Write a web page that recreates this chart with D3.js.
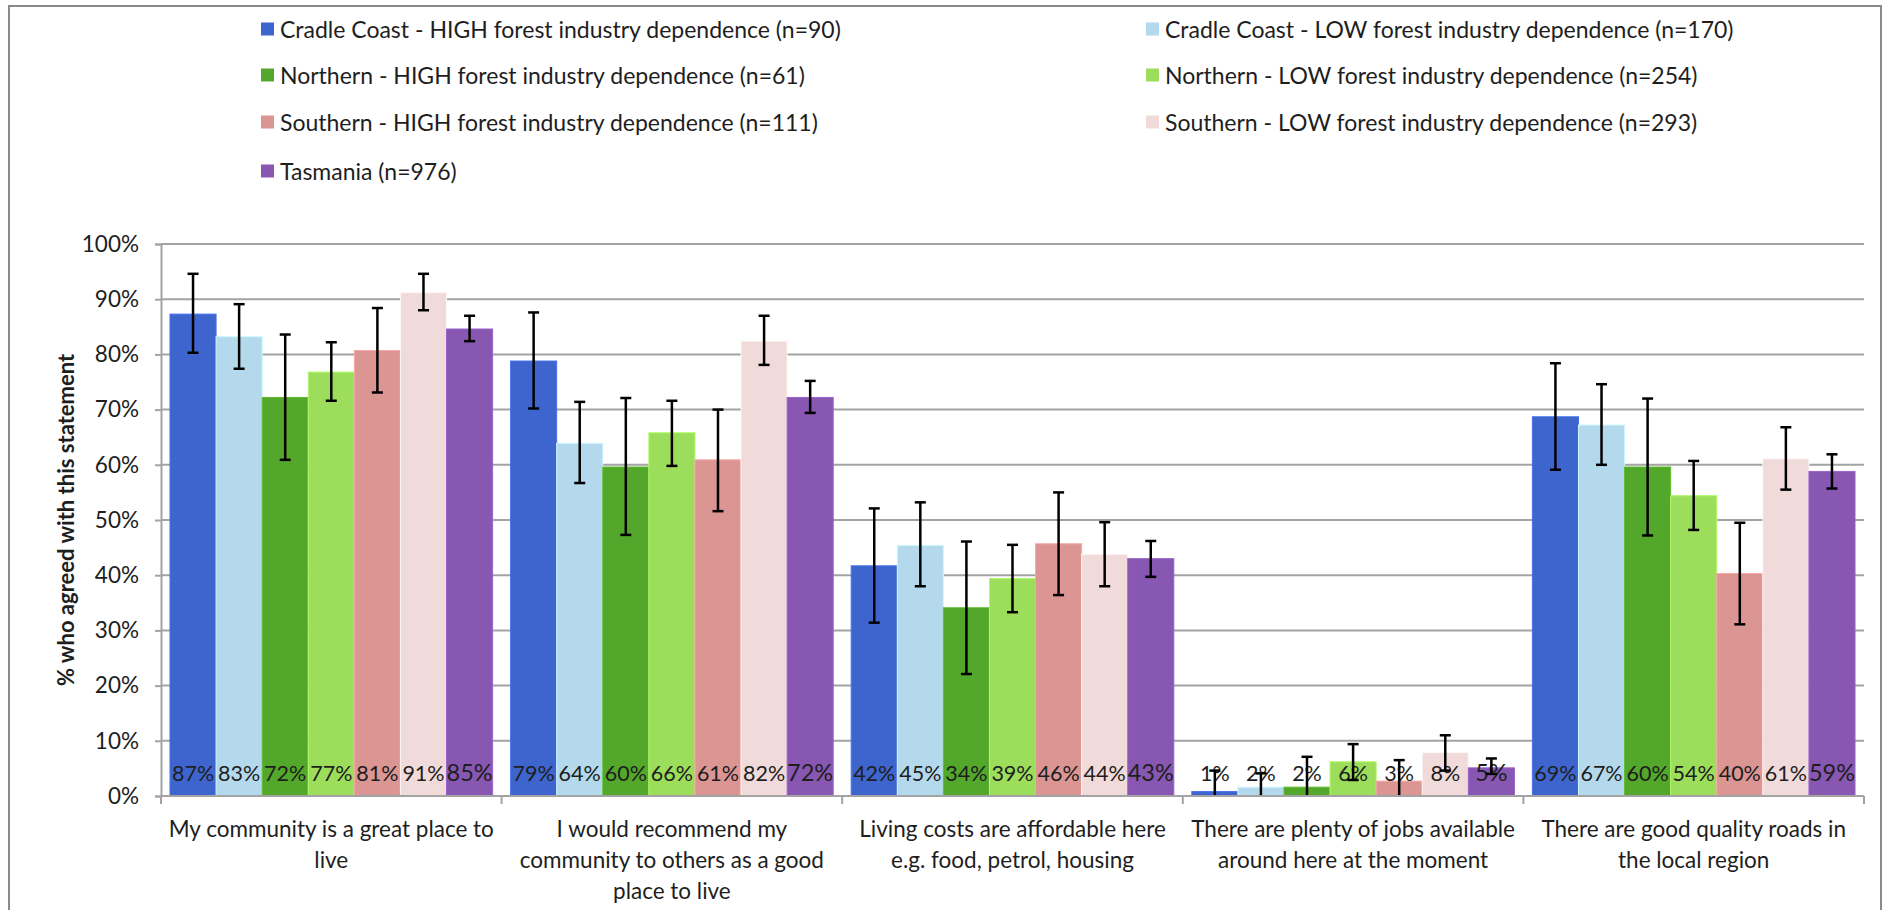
<!DOCTYPE html>
<html>
<head>
<meta charset="utf-8">
<script src="https://cdn.jsdelivr.net/npm/d3@7"></script>
<style>
  html, body { margin: 0; padding: 0; background: #fff; }
  svg text { font-family: Lato, "Open Sans", sans-serif; }
</style>
</head>
<body>
<svg id="chart" width="1883" height="910"></svg>
<script>
// ---------- DATA ----------
const categories = [
  ["My community is a great place to", "live"],
  ["I would recommend my", "community to others as a good", "place to live"],
  ["Living costs are affordable here", "e.g. food, petrol, housing"],
  ["There are plenty of jobs available", "around here at the moment"],
  ["There are good quality roads in", "the local region"]
];
const seriesNames = [
  "Cradle Coast - HIGH forest industry dependence (n=90)",
  "Cradle Coast - LOW forest industry dependence (n=170)",
  "Northern - HIGH forest industry dependence (n=61)",
  "Northern - LOW forest industry dependence (n=254)",
  "Southern - HIGH forest industry dependence (n=111)",
  "Southern - LOW forest industry dependence (n=293)",
  "Tasmania (n=976)"
];
const seriesColors = ["#3e65ce", "#b4d9ec", "#53a72a", "#9cdd5c", "#db9593", "#f1dada", "#8757b1"];

const cradleHigh  = [87.3, 78.8, 41.7, 0.8, 68.7];
const cradleLow   = [83.2, 63.9, 45.4, 1.6, 67.2];
const northHigh   = [72.2, 59.6, 34.1, 1.6, 59.6];
const northLow    = [76.8, 65.8, 39.4, 6.2, 54.4];
const southHigh   = [80.7, 60.9, 45.7, 2.7, 40.3];
const southLow    = [91.2, 82.4, 43.8, 7.9, 61.1];
const tasmania    = [84.6, 72.2, 43.0, 5.1, 58.8];

const cradleHighErr = [[80.3, 94.6], [70.2, 87.6], [31.4, 52.1], [-3.0, 4.6], [59.1, 78.4]];
const cradleLowErr  = [[77.4, 89.1], [56.7, 71.4], [38.0, 53.2], [-0.9, 4.1], [60.0, 74.6]];
const northHighErr  = [[60.9, 83.6], [47.3, 72.1], [22.1, 46.1], [-3.9, 7.1], [47.2, 72.0]];
const northLowErr   = [[71.6, 82.2], [59.8, 71.6], [33.3, 45.5], [2.9, 9.4], [48.2, 60.7]];
const southHighErr  = [[73.1, 88.4], [51.6, 70.0], [36.4, 55.0], [-1.1, 6.5], [31.1, 49.5]];
const southLowErr   = [[88.0, 94.6], [78.1, 87.0], [38.0, 49.6], [4.6, 11.0], [55.5, 66.8]];
const tasmaniaErr   = [[82.4, 87.0], [69.4, 75.2], [39.7, 46.2], [4.0, 6.8], [55.7, 61.9]];

const yTicks = [0, 10, 20, 30, 40, 50, 60, 70, 80, 90, 100];
const yTitle = "% who agreed with this statement";

const seriesValues = [cradleHigh, cradleLow, northHigh, northLow, southHigh, southLow, tasmania];
const seriesErrors = [cradleHighErr, cradleLowErr, northHighErr, northLowErr, southHighErr, southLowErr, tasmaniaErr];

// ---------- LAYOUT ----------
const svg = d3.select("#chart");
const plot = { left: 161, right: 1864, top: 244, bottom: 796 };
const gridColor = "#a3a3a3";
const textColor = "#1e1e1e";

// outer border
svg.append("rect")
  .attr("x", 9).attr("y", 6).attr("width", 1872).attr("height", 920)
  .attr("fill", "none").attr("stroke", "#8a8a8a").attr("stroke-width", 2);

const catIdx = d3.range(categories.length);
const x0 = d3.scaleBand().domain(catIdx).range([plot.left, plot.right]).padding(0);
const x1 = d3.scaleBand().domain(d3.range(seriesNames.length))
  .range([0, x0.bandwidth()]).paddingInner(0).paddingOuter(0.195);
const y = d3.scaleLinear().domain([0, 100]).range([plot.bottom, plot.top]);

// gridlines
svg.append("g").selectAll("line").data(yTicks.filter(t => t > 0)).join("line")
  .attr("x1", plot.left).attr("x2", plot.right)
  .attr("y1", d => y(d)).attr("y2", d => y(d))
  .attr("stroke", gridColor).attr("stroke-width", 2);

// y axis
const yAxis = d3.axisLeft(y).tickValues(yTicks).tickFormat(d => d + "%").tickSize(6).tickPadding(16);
const gy = svg.append("g").attr("transform", `translate(${plot.left},0)`).call(yAxis);
gy.select(".domain").attr("stroke", gridColor).attr("stroke-width", 2);
gy.selectAll(".tick line").attr("stroke", gridColor).attr("stroke-width", 2);
gy.selectAll(".tick text").attr("fill", textColor).style("font-size", "22.5px").style("font-family", "Lato, sans-serif");

// y title
svg.append("text")
  .attr("transform", `translate(65,${(plot.top + plot.bottom) / 2}) rotate(-90)`)
  .attr("text-anchor", "middle").attr("dominant-baseline", "central")
  .attr("fill", textColor).style("font-size", "22px").style("font-weight", "bold")
  .text(yTitle);

// bars
const groups = svg.append("g").selectAll("g").data(catIdx).join("g")
  .attr("transform", c => `translate(${x0(c)},0)`);

groups.selectAll("rect").data(c => seriesValues.map((vals, s) => ({ s, v: vals[c] }))).join("rect")
  .attr("x", d => x1(d.s)).attr("width", x1.bandwidth())
  .attr("y", d => y(d.v)).attr("height", d => y(0) - y(d.v))
  .attr("fill", d => seriesColors[d.s])
  .attr("stroke", d => d3.color(seriesColors[d.s]).brighter(0.35))
  .attr("stroke-width", 1);

// x axis
const xAxisG = svg.append("g");
xAxisG.append("line").attr("x1", plot.left).attr("x2", plot.right)
  .attr("y1", plot.bottom).attr("y2", plot.bottom).attr("stroke", gridColor).attr("stroke-width", 2);
const boundaries = catIdx.map(c => x0(c)).concat([x0(catIdx[catIdx.length - 1]) + x0.bandwidth()]);
xAxisG.selectAll("line.tk").data(boundaries).join("line").attr("class", "tk")
  .attr("x1", d => d).attr("x2", d => d)
  .attr("y1", plot.bottom).attr("y2", plot.bottom + 8)
  .attr("stroke", gridColor).attr("stroke-width", 2);

// category labels
const catLabels = svg.append("g").selectAll("text").data(catIdx).join("text")
  .attr("x", c => x0(c) + x0.bandwidth() / 2)
  .attr("y", 837)
  .attr("text-anchor", "middle").attr("fill", textColor).style("font-size", "22.5px");
catLabels.selectAll("tspan").data(c => categories[c]).join("tspan")
  .attr("x", function () { return d3.select(this.parentNode).attr("x"); })
  .attr("dy", (d, i) => i === 0 ? 0 : 31)
  .text(d => d);

// data labels
groups.selectAll("text.val").data(c => seriesValues.map((vals, s) => ({ s, v: vals[c] }))).join("text")
  .attr("class", "val")
  .attr("x", d => x1(d.s) + x1.bandwidth() / 2)
  .attr("y", 781)
  .attr("text-anchor", "middle").attr("fill", textColor)
  .style("font-size", d => d.s === 6 ? "23.5px" : "21.5px")
  .text(d => Math.round(d.v) + "%");

// error bars
const capW = 11;
const eb = groups.selectAll("g.err").data(c => seriesErrors.map((errs, s) => ({ s, lo: errs[c][0], hi: errs[c][1] }))).join("g")
  .attr("class", "err")
  .attr("transform", d => `translate(${x1(d.s) + x1.bandwidth() / 2},0)`);
eb.append("line").attr("x1", 0).attr("x2", 0)
  .attr("y1", d => y(Math.max(0, d.lo))).attr("y2", d => y(d.hi))
  .attr("stroke", "#000").attr("stroke-width", 2.5);
eb.append("line").attr("x1", -capW / 2).attr("x2", capW / 2)
  .attr("y1", d => y(d.hi)).attr("y2", d => y(d.hi))
  .attr("stroke", "#000").attr("stroke-width", 2.5);
eb.filter(d => d.lo >= 0).append("line").attr("x1", -capW / 2).attr("x2", capW / 2)
  .attr("y1", d => y(d.lo)).attr("y2", d => y(d.lo))
  .attr("stroke", "#000").attr("stroke-width", 2.5);

// legend
const legendCols = [261, 1146];
const legendRows = [29, 75, 122, 171];
const leg = svg.append("g").selectAll("g").data(seriesNames.map((n, i) => ({ n, i }))).join("g")
  .attr("transform", d => `translate(${legendCols[d.i % 2]},${legendRows[Math.floor(d.i / 2)]})`);
leg.append("rect").attr("x", 0).attr("y", -6.5).attr("width", 13).attr("height", 13)
  .attr("fill", d => seriesColors[d.i]);
leg.append("text").attr("x", 19).attr("y", 0).attr("dominant-baseline", "central")
  .attr("fill", textColor).style("font-size", "23px").text(d => d.n);
</script>
</body>
</html>
